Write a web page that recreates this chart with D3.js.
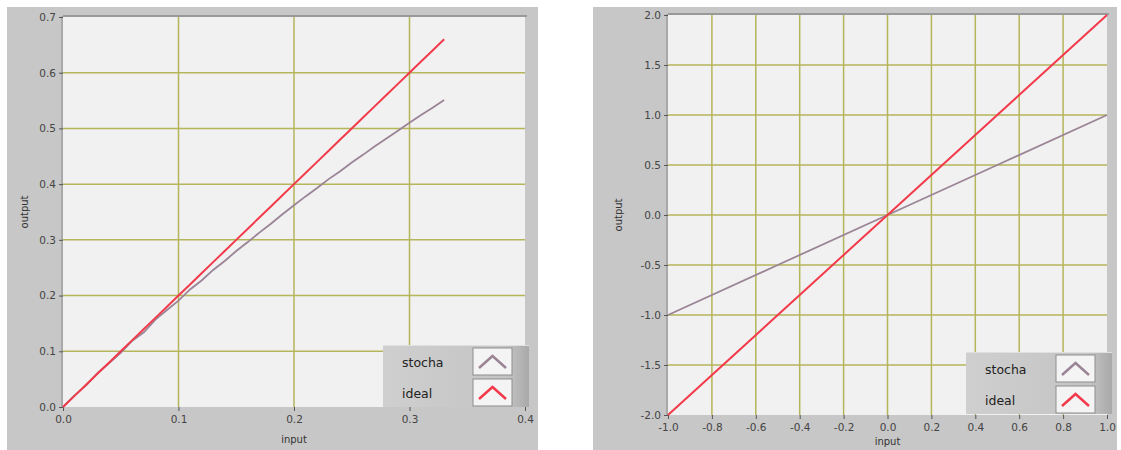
<!DOCTYPE html>
<html>
<head>
<meta charset="utf-8">
<style>
  body { margin: 0; background: #fff; }
  text { font-family: "DejaVu Sans", sans-serif; fill: #333; }
  .tick text { font-size: 10.5px; fill: #444; }
  .tick line { stroke: #555; }
  .domain { display: none; }
</style>
<script src="https://d3js.org/d3.v7.min.js"></script>
</head>
<body>
<svg id="chart" width="1121" height="450"></svg>
<script>
// left chart data
var leftInput = [0, 0.01, 0.02, 0.03, 0.04, 0.05, 0.06, 0.07, 0.08, 0.09, 0.10, 0.11, 0.12, 0.13, 0.14, 0.15, 0.16,
  0.17, 0.18, 0.19, 0.20, 0.21, 0.22, 0.23, 0.24, 0.25, 0.26, 0.27, 0.28, 0.29, 0.30, 0.31, 0.32, 0.33];
var leftStocha = [0, 0.021, 0.039, 0.061, 0.079, 0.097, 0.119, 0.134, 0.157, 0.174, 0.191, 0.211, 0.227, 0.246,
  0.262, 0.280, 0.296, 0.313, 0.329, 0.346, 0.362, 0.378, 0.393, 0.409, 0.423, 0.439, 0.453, 0.468, 0.482, 0.496,
  0.510, 0.524, 0.537, 0.551];
var leftIdeal = [0, 0.02, 0.04, 0.06, 0.08, 0.10, 0.12, 0.14, 0.16, 0.18, 0.20, 0.22, 0.24, 0.26, 0.28, 0.30, 0.32,
  0.34, 0.36, 0.38, 0.40, 0.42, 0.44, 0.46, 0.48, 0.50, 0.52, 0.54, 0.56, 0.58, 0.60, 0.62, 0.64, 0.66];
var leftXTicks = [0, 0.1, 0.2, 0.3, 0.4];
var leftYTicks = [0, 0.1, 0.2, 0.3, 0.4, 0.5, 0.6, 0.7];

// right chart data
var rightInput = [-1, -0.5, 0, 0.5, 1];
var rightStocha = [-1, -0.5, 0, 0.5, 1];
var rightIdeal = [-2, -1, 0, 1, 2];
var rightXTicks = [-1, -0.8, -0.6, -0.4, -0.2, 0, 0.2, 0.4, 0.6, 0.8, 1];
var rightYTicks = [-2, -1.5, -1, -0.5, 0, 0.5, 1, 1.5, 2];

var seriesNames = ["stocha", "ideal"];
var seriesColors = ["#9a8496", "#f23a4a"];

var svg = d3.select("#chart");
var fmt = function(d){ return d3.format(".1f")(d).replace("\u2212", "-"); };

function drawPanel(p){
  var g = svg.append("g");

  // gray frame
  g.append("rect").attr("x", p.frame[0]).attr("y", p.frame[1])
    .attr("width", p.frame[2]).attr("height", p.frame[3]).attr("fill", "#c7c7c7");

  var x = d3.scaleLinear().domain(p.xDomain).range([p.left, p.right]);
  var y = d3.scaleLinear().domain(p.yDomain).range([p.bottom, p.top]);

  // plot background
  g.append("rect").attr("x", p.left).attr("y", p.top - 1)
    .attr("width", p.right - p.left).attr("height", p.bottom - p.top + 1)
    .attr("fill", "#f1f1f1");
  g.append("line").attr("x1", p.left).attr("x2", p.right + 2)
    .attr("y1", p.top - 1).attr("y2", p.top - 1).attr("stroke", "#999").attr("stroke-width", 2);
  g.append("line").attr("x1", p.left - 1).attr("x2", p.left - 1)
    .attr("y1", p.top - 1).attr("y2", p.bottom).attr("stroke", "#8a8a8a").attr("stroke-width", 1);

  // grid
  var grid = g.append("g");
  grid.selectAll(".gx").data(p.xTicks.slice(1, -1)).enter().append("line")
    .attr("x1", function(d){ return x(d); }).attr("x2", function(d){ return x(d); })
    .attr("y1", p.top).attr("y2", p.bottom)
    .attr("stroke", "#b5b55a").attr("stroke-width", 1.5);
  grid.selectAll(".gy").data(p.yTicks.slice(1, -1)).enter().append("line")
    .attr("y1", function(d){ return y(d); }).attr("y2", function(d){ return y(d); })
    .attr("x1", p.left).attr("x2", p.right)
    .attr("stroke", "#b5b55a").attr("stroke-width", 1.5);

  // axes
  g.append("g").attr("transform", "translate(0," + p.bottom + ")")
    .call(d3.axisBottom(x).tickValues(p.xTicks).tickSize(4).tickPadding(5).tickFormat(fmt));
  g.append("g").attr("transform", "translate(" + p.left + ",0)")
    .call(d3.axisLeft(y).tickValues(p.yTicks).tickSize(4).tickPadding(3).tickFormat(fmt));

  g.append("text").attr("x", (p.left + p.right) / 2).attr("y", Math.min(p.bottom + 36, 445))
    .attr("text-anchor", "middle").style("font-size", "10px").text("input");
  g.append("text").attr("transform", "translate(" + p.yLabelX + "," + ((p.top + p.bottom) / 2) + ") rotate(-90)")
    .attr("text-anchor", "middle").style("font-size", "10px").text("output");

  // series
  var line = d3.line().x(function(d){ return x(d[0]); }).y(function(d){ return y(d[1]); });
  p.series.forEach(function(vals, i){
    g.append("path").datum(p.input.map(function(v, j){ return [v, vals[j]]; }))
      .attr("d", line).attr("fill", "none")
      .attr("stroke", seriesColors[i]).attr("stroke-width", i === 1 ? 2 : 1.8);
  });

  // legend
  var lg = g.append("g").attr("transform", "translate(" + p.legend[0] + "," + p.legend[1] + ")");
  var grad = svg.append("defs").append("linearGradient").attr("id", "lgrad" + p.id);
  grad.append("stop").attr("offset", "0").attr("stop-color", "#cfcfcf");
  grad.append("stop").attr("offset", "0.85").attr("stop-color", "#c4c4c4");
  grad.append("stop").attr("offset", "1").attr("stop-color", "#a9a9a9");
  lg.append("rect").attr("width", 146).attr("height", 62).attr("fill", "url(#lgrad" + p.id + ")");
  lg.append("line").attr("x1", 0).attr("x2", 146).attr("y1", 0.5).attr("y2", 0.5).attr("stroke", "#e0e0e0");
  seriesNames.forEach(function(name, i){
    var ry = 3 + i * 31;
    lg.append("text").attr("x", 19).attr("y", ry + 19).style("font-size", "12.5px")
      .style("fill", "#222").text(name);
    lg.append("rect").attr("x", 90).attr("y", ry).attr("width", 39).attr("height", 27)
      .attr("fill", "#f4f4f4").attr("stroke", "#8d8d8d").attr("stroke-width", 1);
    lg.append("path").attr("d", "M" + 96 + "," + (ry + 20) + " L" + 109.5 + "," + (ry + 8) + " L" + 123 + "," + (ry + 20))
      .attr("fill", "none").attr("stroke", seriesColors[i]).attr("stroke-width", 2.5);
  });
}

drawPanel({
  id: "L", frame: [7, 7, 531, 443], left: 63, right: 525, top: 17, bottom: 407,
  xDomain: [0, 0.4], yDomain: [0, 0.7], xTicks: leftXTicks, yTicks: leftYTicks,
  input: leftInput, series: [leftStocha, leftIdeal], legend: [383, 345], yLabelX: 28
});
drawPanel({
  id: "R", frame: [593, 7, 524, 443], left: 668, right: 1107, top: 15, bottom: 415,
  xDomain: [-1, 1], yDomain: [-2, 2], xTicks: rightXTicks, yTicks: rightYTicks,
  input: rightInput, series: [rightStocha, rightIdeal], legend: [966, 352], yLabelX: 622
});
</script>
</body>
</html>
